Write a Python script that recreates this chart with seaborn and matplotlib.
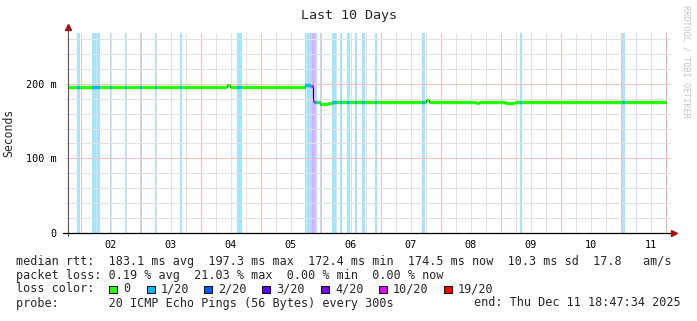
import numpy as np
import pandas as pd
import matplotlib
matplotlib.use("Agg")
import matplotlib.pyplot as plt
import seaborn as sns
from matplotlib.patches import Rectangle

# ---- data (x = fractional day of December 2025) ----
seg_start = [1.788, 4.43, 4.48, 5.738, 5.82, 5.867, 5.89, 5.94, 5.99, 6.12, 6.19,
             7.76, 7.80, 8.59, 8.63, 9.07, 9.24]
seg_ms = [196.0, 198.5, 196.0, 197.5, 196.5, 176.5, 176.0, 175.0, 173.0, 174.0, 175.0,
          178.0, 175.0, 173.5, 175.0, 173.8, 175.0]
last_day = 11.75

loss_start = [1.94, 2.19, 2.49, 2.74, 2.99, 3.24, 3.66, 4.61, 5.74, 5.86, 5.91, 5.99,
              6.19, 6.32, 6.44, 6.57, 6.69, 6.90, 7.69, 9.32, 11.02]
loss_end = [1.99, 2.32, 2.52, 2.77, 3.02, 3.27, 3.69, 4.69, 5.86, 5.91, 5.94, 6.01,
            6.27, 6.35, 6.49, 6.60, 6.74, 6.94, 7.74, 9.36, 11.07]
loss_level = ["1/20"] * 9 + ["10/20"] + ["1/20"] * 11

loss_labels = ["0", "1/20", "2/20", "3/20", "4/20", "10/20", "19/20"]
loss_colors = ["#26ff00", "#00b8ff", "#0059ff", "#5e00ff", "#7e00ff", "#dd00ff", "#ff0000"]

day_labels = ["02", "03", "04", "05", "06", "07", "08", "09", "10", "11"]
y_ticks = [0, 100, 200]
y_labels = ["0", "100 m", "200 m"]

stats_lines = [
    "median rtt:  183.1 ms avg  197.3 ms max  172.4 ms min  174.5 ms now  10.3 ms sd  17.8   am/s",
    "packet loss: 0.19 % avg  21.03 % max  0.00 % min  0.00 % now",
]
probe_text = "probe:       20 ICMP Echo Pings (56 Bytes) every 300s"
end_text = "end: Thu Dec 11 18:47:34 2025"

# ---- figure ----
sns.set_style("white")
plt.rcParams["font.family"] = ["DejaVu Sans Mono", "DejaVu Sans"]
W, H = 697, 321
fig = plt.figure(figsize=(W / 100, H / 100), dpi=100)
x0, x1, y0, y1 = 68, 668, 233.3, 32.7
ax = fig.add_axes([x0 / W, 1 - y0 / H, (x1 - x0) / W, (y0 - y1) / H])
XMIN, XMAX = 1.788, 11.788
YTOP = 268
ax.set_xlim(XMIN, XMAX)
ax.set_ylim(0, YTOP)
for s in ax.spines.values():
    s.set_visible(False)

col_of = dict(zip(loss_labels, loss_colors))

def light(c, a=0.36):
    r, g, b = matplotlib.colors.to_rgb(c)
    return (1 - a + a * r, 1 - a + a * g, 1 - a + a * b)

# loss background bars
bars = ax.bar(loss_start, YTOP, width=np.array(loss_end) - np.array(loss_start), align="edge",
              color=[light(col_of[l]) for l in loss_level], linewidth=0, zorder=1)

# grid
gray, red = "#e0e0e0", "#f5c0c0"
for d in np.arange(1.75, XMAX, 0.25):
    if d > XMIN:
        is_mid = abs(d - round(d)) < 1e-6
        ax.axvline(d, color=red if is_mid else gray, lw=0.72, zorder=2)
ax.axvline(last_day, color="#eaa8a8", lw=0.72, zorder=2)
for v in range(20, YTOP, 20):
    ax.axhline(v, color=red if v % 100 == 0 else gray, lw=0.72, zorder=2,
               xmin=-0.004, xmax=1.004, clip_on=False)

# median line
seg_stop = seg_start[1:] + [last_day]
df = pd.DataFrame({"day": seg_start + [last_day], "ms": seg_ms + [seg_ms[-1]]})
sns.lineplot(data=df, x="day", y="ms", drawstyle="steps-post", color="black", lw=0.7,
             ax=ax, zorder=3)
ax.hlines(seg_ms, seg_start, seg_stop, colors=col_of["0"], lw=2.4, zorder=4)
for bar, lvl in zip(bars, loss_level):
    hl = ax.hlines(seg_ms, seg_start, seg_stop, colors=col_of[lvl], lw=2.4, zorder=5)
    hl.set_clip_path(bar)

# ticks
ax.set_xticks(np.arange(2.5, 12, 1.0))
ax.set_xticklabels(day_labels)
ax.set_yticks(y_ticks)
ax.set_yticklabels(y_labels)
ax.tick_params(axis="x", length=0, pad=5, labelsize=7.3, colors="black")
ax.tick_params(axis="y", length=0, pad=8, labelsize=7.3, colors="black")
ax.set_xlabel("")
ax.set_ylabel("Seconds", fontsize=8.3, labelpad=10)
ax.yaxis.set_label_coords(-53 / 600, 0.5)

# axes lines with arrows
ax.plot([0, 0], [-0.015, 1.03], transform=ax.transAxes, color="#555555", lw=0.8,
        clip_on=False, zorder=6)
ax.plot([-0.008, 1.01], [0, 0], transform=ax.transAxes, color="black", lw=0.9,
        clip_on=False, zorder=6)
ax.plot([0], [1.03], marker="^", transform=ax.transAxes, color="#a01010", markersize=4.5,
        clip_on=False, zorder=7)
ax.plot([1.01], [0], marker=">", transform=ax.transAxes, color="#a01010", markersize=4.5,
        clip_on=False, zorder=7)

# texts
fig.text(349 / W, 1 - 16 / H, "Last 10 Days", ha="center", va="center", fontsize=9.6)
fig.text(686 / W, 1 - 61 / H, "RRDTOOL / TOBI OETIKER", rotation=270, ha="center",
         va="center", fontsize=6.1, color="#c4c4c4")

fs = 8.5
fig.text(16 / W, 1 - 261 / H, stats_lines[0], ha="left", va="center", fontsize=fs)
fig.text(16 / W, 1 - 275 / H, stats_lines[1], ha="left", va="center", fontsize=fs)
fig.text(16 / W, 1 - 289 / H, "loss color:", ha="left", va="center", fontsize=fs)
sq_x = [109, 147, 204, 262, 321, 379, 444]
for sx, lab, c in zip(sq_x, loss_labels, loss_colors):
    fig.patches.append(Rectangle((sx / W, 1 - 293.3 / H), 7.6 / W, 7.6 / H,
                                 transform=fig.transFigure, facecolor=c,
                                 edgecolor="black", lw=0.7))
    fig.text((sx + 14) / W, 1 - 289 / H, lab, ha="left", va="center", fontsize=fs)
fig.text(16 / W, 1 - 303 / H, probe_text, ha="left", va="center", fontsize=fs)
fig.text(681 / W, 1 - 303 / H, end_text, ha="right", va="center", fontsize=fs)

fig.savefig("out.png", dpi=100)
